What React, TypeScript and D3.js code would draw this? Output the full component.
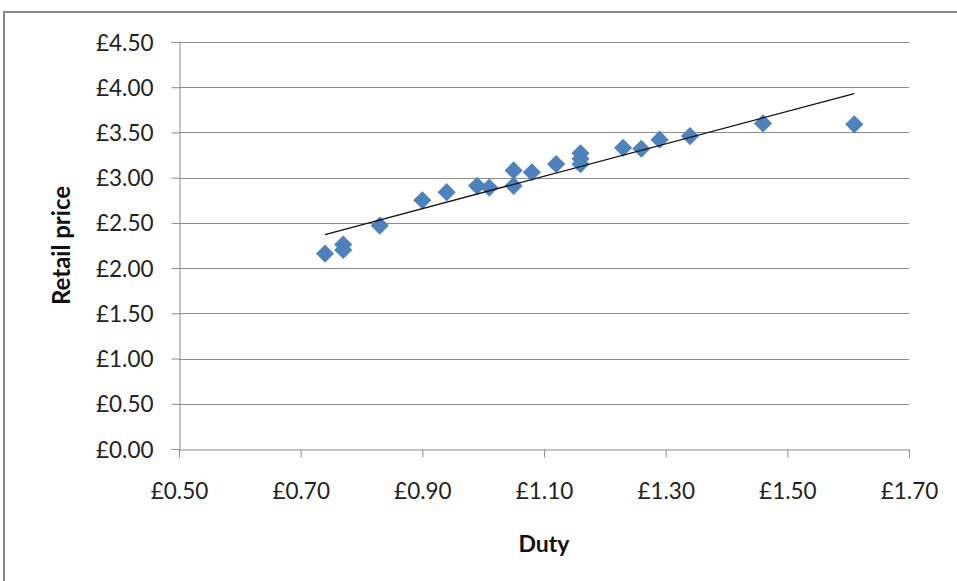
import * as d3 from 'd3'
import { useEffect, useRef, type ReactElement } from 'react'

// duty (£) per pack
const duty = [
  0.74, 0.77, 0.77, 0.83, 0.9, 0.94, 0.99, 1.01, 1.05, 1.05, 1.08, 1.12, 1.16, 1.16, 1.16, 1.23, 1.26,
  1.29, 1.34, 1.46, 1.61,
]
// retail price (£) matching each duty value
const retail = [
  2.16, 2.26, 2.2, 2.47, 2.75, 2.84, 2.91, 2.89, 3.08, 2.91, 3.06, 3.15, 3.27, 3.21, 3.15, 3.33, 3.32,
  3.42, 3.46, 3.6, 3.59,
]
// linear trendline ends [duty, price]
const trendStart: [number, number] = [0.74, 2.37]
const trendEnd: [number, number] = [1.61, 3.93]

const xTicks = [0.5, 0.7, 0.9, 1.1, 1.3, 1.5, 1.7]
const yTicks = [0, 0.5, 1, 1.5, 2, 2.5, 3, 3.5, 4, 4.5]

const width = 957
const height = 581
const plot = { left: 179, right: 909, top: 42, bottom: 449 }
const fontFamily = 'Lato, "Open Sans", sans-serif'
const gridColour = '#8c8c8c'

export default function App(): ReactElement {
  const svgRef = useRef<SVGSVGElement>(null)

  useEffect(() => {
    const svgElement = svgRef.current
    if (!svgElement) {
      return
    }
    const svg = d3.select(svgElement)
    svg.selectAll('*').remove()

    const xScale = d3.scaleLinear().domain([0.5, 1.7]).range([plot.left, plot.right])
    const yScale = d3.scaleLinear().domain([0, 4.5]).range([plot.bottom, plot.top])
    const money = (v: d3.NumberValue) => `£${(+v).toFixed(2)}`

    svg.append('rect').attr('width', width).attr('height', height).attr('fill', '#fff')

    // chart area border (only top and left fall inside the picture)
    svg
      .append('rect')
      .attr('x', 4)
      .attr('y', 12)
      .attr('width', width + 20)
      .attr('height', height + 20)
      .attr('fill', 'none')
      .attr('stroke', '#888')
      .attr('stroke-width', 2)

    // horizontal gridlines
    svg
      .append('g')
      .selectAll('line')
      .data(yTicks.filter((t) => t > 0))
      .join('line')
      .attr('x1', plot.left)
      .attr('x2', plot.right)
      .attr('y1', (d) => Math.round(yScale(d)) + 0.5)
      .attr('y2', (d) => Math.round(yScale(d)) + 0.5)
      .attr('stroke', gridColour)
      .attr('stroke-width', 1)

    const yAxis = d3.axisLeft(yScale).tickValues(yTicks).tickFormat(money).tickSize(8).tickPadding(18)
    const yg = svg.append('g').attr('transform', `translate(${plot.left + 0.5},0)`).call(yAxis)
    yg.select('.domain').attr('stroke', gridColour)
    yg.selectAll('.tick line').attr('stroke', gridColour)
    yg.selectAll('.tick text')
      .attr('fill', '#222')
      .style('font-family', fontFamily)
      .style('font-size', '22.5px')
      .attr('dy', '0.36em')

    const xAxis = d3.axisBottom(xScale).tickValues(xTicks).tickFormat(money).tickSize(8).tickPadding(26)
    const xg = svg.append('g').attr('transform', `translate(0,${plot.bottom + 0.5})`).call(xAxis)
    xg.select('.domain').attr('stroke', gridColour)
    xg.selectAll('.tick line').attr('stroke', gridColour)
    xg.selectAll('.tick text')
      .attr('fill', '#222')
      .style('font-family', fontFamily)
      .style('font-size', '22.5px')

    // axis titles
    svg
      .append('text')
      .attr('transform', `translate(70,${(plot.top + plot.bottom) / 2}) rotate(-90)`)
      .attr('text-anchor', 'middle')
      .style('font-family', fontFamily)
      .style('font-size', '24px')
      .style('font-weight', 'bold')
      .attr('fill', '#111')
      .text('Retail price')

    svg
      .append('text')
      .attr('x', (plot.left + plot.right) / 2)
      .attr('y', 552)
      .attr('text-anchor', 'middle')
      .style('font-family', fontFamily)
      .style('font-size', '23px')
      .style('font-weight', 'bold')
      .attr('fill', '#111')
      .text('Duty')

    // data points as diamonds
    const points = duty.map((d, i) => ({ x: d, y: retail[i]! }))
    const diamond = d3.symbol(d3.symbolSquare, 165)
    svg
      .append('g')
      .selectAll('path')
      .data(points)
      .join('path')
      .attr('d', diamond)
      .attr('transform', (d) => `translate(${xScale(d.x)},${yScale(d.y)}) rotate(45)`)
      .attr('fill', '#4f81bd')

    // trendline
    const line = d3
      .line<[number, number]>()
      .x((d) => xScale(d[0]))
      .y((d) => yScale(d[1]))
    svg
      .append('path')
      .datum([trendStart, trendEnd])
      .attr('d', line)
      .attr('fill', 'none')
      .attr('stroke', '#111')
      .attr('stroke-width', 1.4)
  }, [])

  return (
    <svg
      ref={svgRef}
      width={width}
      height={height}
      style={{ position: 'absolute', left: 0, top: 0, display: 'block' }}
    />
  )
}
